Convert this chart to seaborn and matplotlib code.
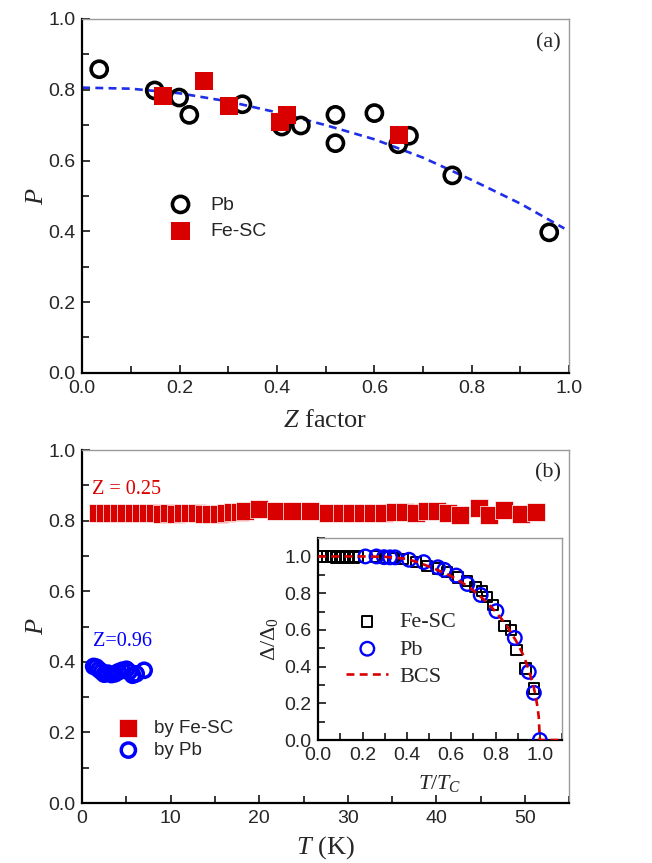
import numpy as np
import pandas as pd
import matplotlib
matplotlib.use("Agg")
import matplotlib.pyplot as plt
import seaborn as sns

# ---- panel (a): P vs Z factor
z_pb = [0.035, 0.149, 0.199, 0.22, 0.329, 0.41, 0.449, 0.52, 0.52, 0.60, 0.649, 0.671, 0.76, 0.959]
p_pb = [0.858, 0.798, 0.778, 0.729, 0.759, 0.696, 0.699, 0.729, 0.649, 0.734, 0.646, 0.670, 0.558, 0.397]
z_fe = [0.166, 0.25, 0.301, 0.406, 0.42, 0.65]
p_fe = [0.783, 0.825, 0.753, 0.710, 0.729, 0.673]
z_fit = [0.0, 0.1, 0.2, 0.3, 0.4, 0.5, 0.6, 0.7, 0.8, 0.9, 0.99]
p_fit = [0.806, 0.803, 0.790, 0.767, 0.736, 0.700, 0.660, 0.608, 0.545, 0.478, 0.408]

# ---- panel (b): P vs T
t_fe = [1.8, 2.6, 3.4, 4.2, 5.0, 5.8, 6.6, 7.4, 8.2, 9.0, 9.8, 10.6, 11.4, 12.2, 13.0, 13.8,
        14.6, 15.4, 16.2, 17.0, 17.8, 18.4, 20.0, 21.9, 23.7, 25.7, 27.8, 29.3, 30.5, 31.7,
        32.9, 34.1, 35.3, 36.5, 37.7, 38.9, 40.1, 41.3, 42.7, 44.8, 46.0, 47.6, 49.6, 51.3]
pt_fe = [0.823, 0.822, 0.823, 0.822, 0.821, 0.822, 0.821, 0.822, 0.821, 0.820, 0.821, 0.820,
         0.821, 0.822, 0.821, 0.820, 0.818, 0.820, 0.822, 0.824, 0.825, 0.826, 0.832, 0.828,
         0.828, 0.828, 0.822, 0.822, 0.823, 0.822, 0.823, 0.823, 0.824, 0.824, 0.822, 0.826,
         0.827, 0.822, 0.815, 0.836, 0.816, 0.830, 0.819, 0.824]
t_pb = [1.3, 1.6, 1.9, 2.2, 2.5, 2.9, 3.3, 3.7, 4.1, 4.5, 5.0, 5.3, 5.7, 6.1, 7.0]
pt_pb = [0.387, 0.385, 0.378, 0.372, 0.365, 0.368, 0.364, 0.366, 0.372, 0.376, 0.379, 0.372,
         0.362, 0.366, 0.376]

# ---- inset: gap vs T/Tc
tn_fe = [0.02, 0.04, 0.06, 0.08, 0.10, 0.12, 0.14, 0.16, 0.18, 0.26, 0.30, 0.34, 0.38, 0.44,
         0.49, 0.54, 0.58, 0.63, 0.67, 0.71, 0.74, 0.76, 0.79, 0.84, 0.87, 0.895, 0.935, 0.975]
gap_fe = [1.0, 1.0, 1.0, 0.995, 1.0, 0.995, 1.0, 0.995, 1.0, 1.0, 0.995, 0.99, 0.985, 0.97,
          0.948, 0.935, 0.915, 0.885, 0.865, 0.835, 0.81, 0.78, 0.735, 0.62, 0.60, 0.49, 0.39, 0.28]
tn_pb = [0.213, 0.263, 0.297, 0.324, 0.347, 0.41, 0.476, 0.54, 0.569, 0.623, 0.673, 0.733,
         0.804, 0.887, 0.95, 0.973, 1.0]
gap_pb = [1.0, 1.0, 0.996, 0.995, 0.995, 0.982, 0.969, 0.941, 0.927, 0.896, 0.85, 0.79,
          0.702, 0.556, 0.371, 0.257, 0.0]
tn_bcs = [0.0, 0.1, 0.2, 0.3, 0.4, 0.45, 0.5, 0.55, 0.6, 0.65, 0.7, 0.75, 0.8, 0.85, 0.9,
          0.93, 0.95, 0.97, 0.98, 0.99, 0.995, 1.0, 1.1]
gap_bcs = [1.0, 1.0, 1.0, 0.998, 0.987, 0.968, 0.945, 0.92, 0.893, 0.857, 0.815, 0.762, 0.70,
           0.625, 0.525, 0.45, 0.38, 0.30, 0.245, 0.175, 0.125, 0.0, 0.0]

tick_lbl = ["0.0", "0.2", "0.4", "0.6", "0.8", "1.0"]

RED = "#d90000"
BLUE = "#0000ff"
SERIF = "Liberation Serif"

sns.set_style("ticks")
plt.rcParams.update({
    "font.family": ["Liberation Sans", "DejaVu Sans"],
    "font.size": 14,
    "mathtext.fontset": "custom",
    "mathtext.rm": SERIF,
    "mathtext.it": SERIF + ":italic",
    "mathtext.cal": SERIF,
})


def style_axes(ax, xmaj, xmin, ymaj, ymin, size=14):
    for s in ["left", "bottom"]:
        ax.spines[s].set_linewidth(1.6)
        ax.spines[s].set_color("black")
    for s in ["top", "right"]:
        ax.spines[s].set_linewidth(1.0)
        ax.spines[s].set_color("#9a9a9a")
    ax.xaxis.set_major_locator(plt.MultipleLocator(xmaj))
    ax.xaxis.set_minor_locator(plt.MultipleLocator(xmin))
    ax.yaxis.set_major_locator(plt.MultipleLocator(ymaj))
    ax.yaxis.set_minor_locator(plt.MultipleLocator(ymin))
    ax.tick_params(which="both", direction="in", top=False, right=False, width=1.3,
                   labelsize=size, pad=5)
    ax.tick_params(which="major", length=6)
    ax.tick_params(which="minor", length=5)


fig = plt.figure(figsize=(6.52, 8.63), dpi=100)
ax_a = fig.add_axes([0.126, 0.568, 0.747, 0.410])
ax_b = fig.add_axes([0.126, 0.0695, 0.747, 0.409])
ax_in = fig.add_axes([0.488, 0.1425, 0.374, 0.234])

# ---------------- (a)
df_fit = pd.DataFrame({"z": z_fit, "p": p_fit})
sns.lineplot(data=df_fit, x="z", y="p", ax=ax_a, color="#1f2fe8", lw=1.9,
             linestyle=(0, (3, 2)), estimator=None, sort=False, zorder=1)
sns.scatterplot(x=z_pb, y=p_pb, ax=ax_a, marker="o", s=135, facecolors="none",
                edgecolor="black", linewidth=2.6, label="Pb", zorder=3)
sns.scatterplot(x=z_fe, y=p_fe, ax=ax_a, marker="s", s=170, color=RED,
                edgecolor="none", linewidth=0, label="Fe-SC", zorder=4)
ax_a.set_xlim(0, 1.0)
ax_a.set_ylim(0, 1.0)
style_axes(ax_a, 0.2, 0.1, 0.2, 0.1)
ax_a.set_xticks(np.arange(0, 1.01, 0.2))
ax_a.set_xticklabels(tick_lbl)
ax_a.set_yticks(np.arange(0, 1.01, 0.2))
ax_a.set_yticklabels(tick_lbl)
ax_a.set_xlabel(r"$Z$ factor", fontsize=19, family=SERIF, va="center")
ax_a.set_ylabel(r"$P$", fontsize=19, family=SERIF, va="center")
ax_a.xaxis.set_label_coords(0.5, -0.137)
ax_a.yaxis.set_label_coords(-0.092, 0.5)
ax_a.text(0.958, 0.932, "(a)", transform=ax_a.transAxes, fontsize=16, family=SERIF,
          ha="center", va="center")
ax_a.legend(loc="upper left", bbox_to_anchor=(0.172, 0.50), frameon=False, fontsize=14,
            handlelength=1.5, handletextpad=0.8, labelspacing=0.45, borderpad=0,
            borderaxespad=0, scatterpoints=1)

# ---------------- (b)
sns.scatterplot(x=t_fe, y=pt_fe, ax=ax_b, marker="s", s=175, color=RED,
                edgecolor="white", linewidth=0.5, label="by Fe-SC", zorder=3)
sns.scatterplot(x=t_pb, y=pt_pb, ax=ax_b, marker="o", s=105, facecolors="none",
                edgecolor=BLUE, linewidth=2.5, label="by Pb", zorder=3)
ax_b.set_xlim(0, 55)
ax_b.set_ylim(0, 1.0)
style_axes(ax_b, 10, 5, 0.2, 0.1)
ax_b.set_yticks(np.arange(0, 1.01, 0.2))
ax_b.set_yticklabels(tick_lbl)
ax_b.set_xlabel(r"$T$ (K)", fontsize=19, family=SERIF, va="center")
ax_b.set_ylabel(r"$P$", fontsize=19, family=SERIF, va="center")
ax_b.xaxis.set_label_coords(0.5, -0.125)
ax_b.yaxis.set_label_coords(-0.092, 0.5)
ax_b.text(0.957, 0.935, "(b)", transform=ax_b.transAxes, fontsize=16, family=SERIF,
          ha="center", va="center")
ax_b.text(1.1, 0.887, "Z = 0.25", color=RED, fontsize=14.5, family=SERIF, ha="left", va="center")
ax_b.text(1.2, 0.459, "Z=0.96", color=BLUE, fontsize=14.5, family=SERIF, ha="left", va="center")
ax_b.legend(loc="upper left", bbox_to_anchor=(0.066, 0.235), frameon=False, fontsize=13.5,
            handlelength=1.5, handletextpad=0.62, labelspacing=0.25, borderpad=0,
            borderaxespad=0, scatterpoints=1)

# ---------------- inset
sns.scatterplot(x=tn_fe, y=gap_fe, ax=ax_in, marker="s", s=55, facecolors="none",
                edgecolor="black", linewidth=1.4, label="Fe-SC", zorder=2)
sns.scatterplot(x=tn_pb, y=gap_pb, ax=ax_in, marker="o", s=95, facecolors="none",
                edgecolor=BLUE, linewidth=1.7, label="Pb", zorder=3)
df_bcs = pd.DataFrame({"t": tn_bcs, "d": gap_bcs})
sns.lineplot(data=df_bcs, x="t", y="d", ax=ax_in, color=RED, lw=1.9,
             linestyle=(0, (3, 2)), estimator=None, sort=False, label="BCS", zorder=4)
ax_in.set_xlim(0, 1.1)
ax_in.set_ylim(0, 1.1)
style_axes(ax_in, 0.2, 0.1, 0.2, 0.1)
ax_in.set_xticks(np.arange(0, 1.01, 0.2))
ax_in.set_xticklabels(tick_lbl)
ax_in.set_yticks(np.arange(0, 1.01, 0.2))
ax_in.set_yticklabels(tick_lbl)
ax_in.set_xlabel(r"$T/T_C$", fontsize=16, family=SERIF, va="center")
ax_in.set_ylabel(r"$\Delta/\Delta_0$", fontsize=16, family=SERIF, va="center")
ax_in.xaxis.set_label_coords(0.5, -0.215)
ax_in.yaxis.set_label_coords(-0.2, 0.5)
ax_in.legend(loc="upper left", bbox_to_anchor=(0.115, 0.635), frameon=False,
             handlelength=1.9, handletextpad=0.5, labelspacing=0.3, borderpad=0,
             borderaxespad=0, scatterpoints=1, prop={"family": SERIF, "size": 16})

fig.savefig("out.png", dpi=100)
